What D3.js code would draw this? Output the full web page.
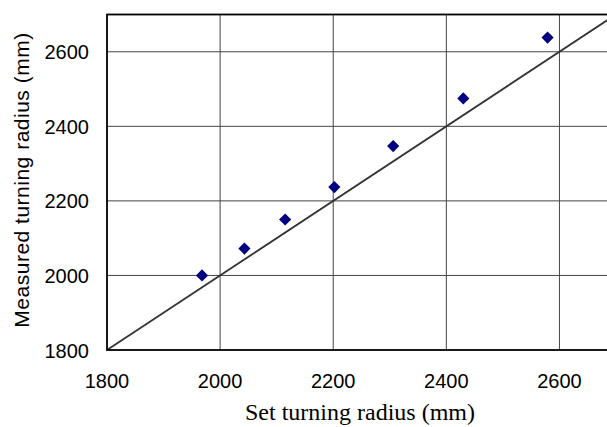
<!DOCTYPE html>
<html>
<head>
<meta charset="utf-8">
<script src="https://cdn.jsdelivr.net/npm/d3@7"></script>
<style>
  body { margin: 0; background: #fff; }
  svg { display: block; overflow: hidden; }
  .tick-label { font-family: "Liberation Sans", Arial, sans-serif; font-size: 20px; fill: #000; }
</style>
</head>
<body>
<svg width="607" height="427"></svg>
<script>
// data
let setRadius      = [1968, 2043, 2115, 2202, 2306, 2430, 2579];
let measuredRadius = [2000, 2072, 2150, 2237, 2347, 2475, 2638];
let tickValues     = [1800, 2000, 2200, 2400, 2600];
let axisDomain     = [1800, 2700];

let svg = d3.select("svg");

// plot box; the right edge runs past the picture in the original
let margin = { left: 107, top: 14.5, right: -9, bottom: 77 };
let width = 607, height = 427;

let x = d3.scaleLinear()
  .domain(axisDomain)
  .range([margin.left, width - margin.right]);

let y = d3.scaleLinear()
  .domain(axisDomain)
  .range([height - margin.bottom, margin.top]);

let plot = svg.append("g");

// grid lines
plot.selectAll("line.vgrid")
  .data(tickValues.slice(1))
  .enter().append("line")
  .attr("x1", d => x(d)).attr("x2", d => x(d))
  .attr("y1", y(axisDomain[0])).attr("y2", y(axisDomain[1]))
  .attr("stroke", "#444").attr("stroke-width", 1);

plot.selectAll("line.hgrid")
  .data(tickValues.slice(1))
  .enter().append("line")
  .attr("x1", x(axisDomain[0])).attr("x2", x(axisDomain[1]))
  .attr("y1", d => y(d)).attr("y2", d => y(d))
  .attr("stroke", "#444").attr("stroke-width", 1);

// y = x reference line
plot.append("line")
  .attr("x1", x(axisDomain[0])).attr("y1", y(axisDomain[0]))
  .attr("x2", x(axisDomain[1])).attr("y2", y(axisDomain[1]))
  .attr("stroke", "#333").attr("stroke-width", 1.8);

// frame
plot.append("rect")
  .attr("x", x(axisDomain[0])).attr("y", y(axisDomain[1]))
  .attr("width", x(axisDomain[1]) - x(axisDomain[0]))
  .attr("height", y(axisDomain[0]) - y(axisDomain[1]))
  .attr("fill", "none").attr("stroke", "#000").attr("stroke-width", 1.8);

// diamonds
let diamond = d3.symbol().type(d3.symbolSquare).size(74);
plot.selectAll("path.pt")
  .data(setRadius.map((d, i) => [d, measuredRadius[i]]))
  .enter().append("path")
  .attr("class", "pt")
  .attr("d", diamond)
  .attr("transform", d => "translate(" + x(d[0]) + "," + y(d[1]) + ") rotate(45)")
  .attr("fill", "#000080");

// tick labels
svg.selectAll("text.xt")
  .data(tickValues)
  .enter().append("text")
  .attr("class", "tick-label")
  .attr("x", d => x(d))
  .attr("y", 388)
  .attr("text-anchor", "middle")
  .text(d => d);

svg.selectAll("text.yt")
  .data(tickValues)
  .enter().append("text")
  .attr("class", "tick-label")
  .attr("x", 89)
  .attr("y", d => y(d) + 7.5)
  .attr("text-anchor", "end")
  .text(d => d);

// axis titles
svg.append("text")
  .attr("x", 360).attr("y", 420)
  .attr("text-anchor", "middle")
  .style("font-family", "'Liberation Serif', 'Times New Roman', serif")
  .style("font-size", "24px")
  .text("Set turning radius (mm)");

svg.append("text")
  .attr("transform", "translate(29,180) rotate(-90)")
  .attr("text-anchor", "middle")
  .style("font-family", "'Liberation Sans', Arial, sans-serif")
  .style("font-size", "21px")
  .style("letter-spacing", "0.5px")
  .text("Measured turning radius (mm)");
</script>
</body>
</html>
